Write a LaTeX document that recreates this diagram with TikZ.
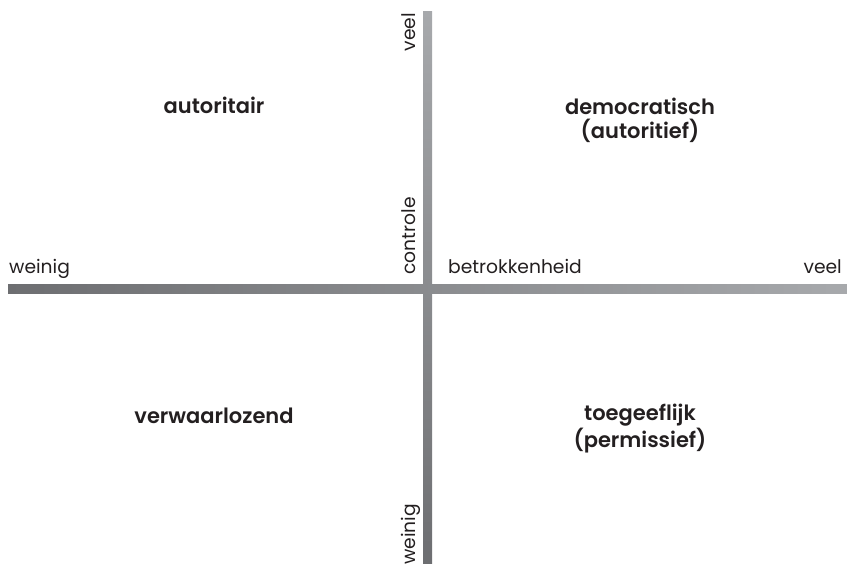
\documentclass[tikz,border=0pt]{standalone}
\usepackage{fontspec}
\setmainfont{Poppins}[BoldFont={* SemiBold}]
\definecolor{axdark}{HTML}{6D6E71}
\definecolor{axlight}{HTML}{A7A9AC}
\definecolor{ink}{HTML}{231F20}
\begin{document}
\begin{tikzpicture}[x=1pt, y=-1pt,
    stylelabel/.style={font=\bfseries\fontsize{21}{24}\selectfont, text=ink, align=center, inner sep=0pt},
    axislabel/.style={font=\fontsize{18.7}{20}\selectfont, text=ink, inner sep=0pt}]
    \useasboundingbox (0,0) rectangle (847,564);
    % the two axes, shaded from weinig (dark) to veel (light)
    \shade[top color=axlight, bottom color=axdark] (423,12) rectangle (432,564);
    \shade[left color=axdark, right color=axlight] (8,285) rectangle (847,294);
    % axis texts
    \node[axislabel, anchor=base west] (xlow) at (9,274) {weinig};
    \node[axislabel, anchor=base west] (xname) at (448,274) {betrokkenheid};
    \node[axislabel, anchor=base east] (xhigh) at (842,274) {veel};
    \node[axislabel, rotate=90, anchor=base east] (yhigh) at (415,13) {veel};
    \node[axislabel, rotate=90, anchor=base east] (yname) at (415,197) {controle};
    \node[axislabel, rotate=90, anchor=base west] (ylow) at (415,565) {weinig};
    % the four styles (base sits on the last line)
    \node[stylelabel, anchor=base] (autoritair) at (214,114) {autoritair};
    \node[stylelabel, anchor=base] (democratisch) at (640,139) {democratisch\\(autoritief)};
    \node[stylelabel, anchor=base] (verwaarlozend) at (214,423) {verwaarlozend};
    \node[stylelabel, anchor=base] (toegeeflijk) at (640,447) {toegeeflijk\\(permissief)};
\end{tikzpicture}
\end{document}
